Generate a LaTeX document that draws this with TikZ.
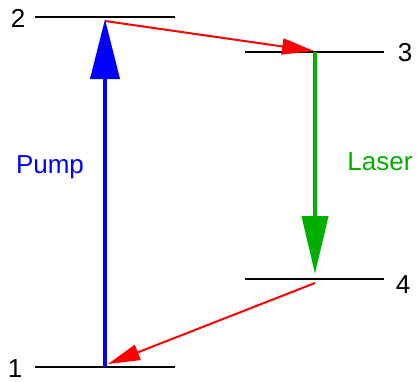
\documentclass[tikz,border=0pt]{standalone}
\usepackage{fontspec}
\setmainfont{Liberation Sans}
\usetikzlibrary{arrows.meta}
\definecolor{pumpblue}{RGB}{0,0,255}
\definecolor{lasergreen}{RGB}{0,176,0}
\definecolor{decayred}{RGB}{255,0,0}
\begin{document}
\begin{tikzpicture}[x=1pt, y=-1pt, thick,
    level/.style={black, line width=2pt},
    lab/.style={font=\fontsize{26}{30}\selectfont, inner sep=0pt},
    decay/.style={decayred, line width=2pt, -{Triangle[length=32pt, width=16pt]}}]
  \useasboundingbox (0,0) rectangle (417,381);

  % ---------------- the four levels ----------------
  \coordinate (l2w) at (35,17);   \coordinate (l2e) at (175,17);
  \coordinate (l3w) at (245,52);  \coordinate (l3e) at (384,52);
  \coordinate (l4w) at (245,279); \coordinate (l4e) at (384,279);
  \coordinate (l1w) at (35,367);  \coordinate (l1e) at (175,367);
  \draw[level] (l2w) -- (l2e);
  \draw[level] (l3w) -- (l3e);
  \draw[level] (l4w) -- (l4e);
  \draw[level] (l1w) -- (l1e);
  \node[lab] (n2) at (18,18.5) {2};
  \node[lab] (n3) at (405,53) {3};
  \node[lab] (n4) at (403,285) {4};
  \node[lab] (n1) at (15,368.5) {1};

  % ---------------- pump and laser ----------------
  \coordinate (pumpfrom) at (105,367);
  \coordinate (pumpto) at (105,19);
  \draw[pumpblue, line width=4pt, -{Triangle[length=60pt, width=29pt]}] (pumpfrom) -- (pumpto);
  \node[lab, pumpblue, anchor=base] (pump) at (50,173) {Pump};
  \coordinate (laserfrom) at (315,52);
  \coordinate (laserto) at (315,274);
  \draw[lasergreen, line width=4pt, -{Triangle[length=58pt, width=26pt]}] (laserfrom) -- (laserto);
  \node[lab, lasergreen, anchor=base] (laser) at (380,170) {Laser};

  % ---------------- fast decays ----------------
  \coordinate (d23from) at (105,21);
  \coordinate (d23to) at (314,51);
  \draw[decay] (d23from) -- (d23to);
  \coordinate (d41from) at (315,283);
  \coordinate (d41to) at (108,364);
  \draw[decay] (d41from) -- (d41to);

\end{tikzpicture}
\end{document}
